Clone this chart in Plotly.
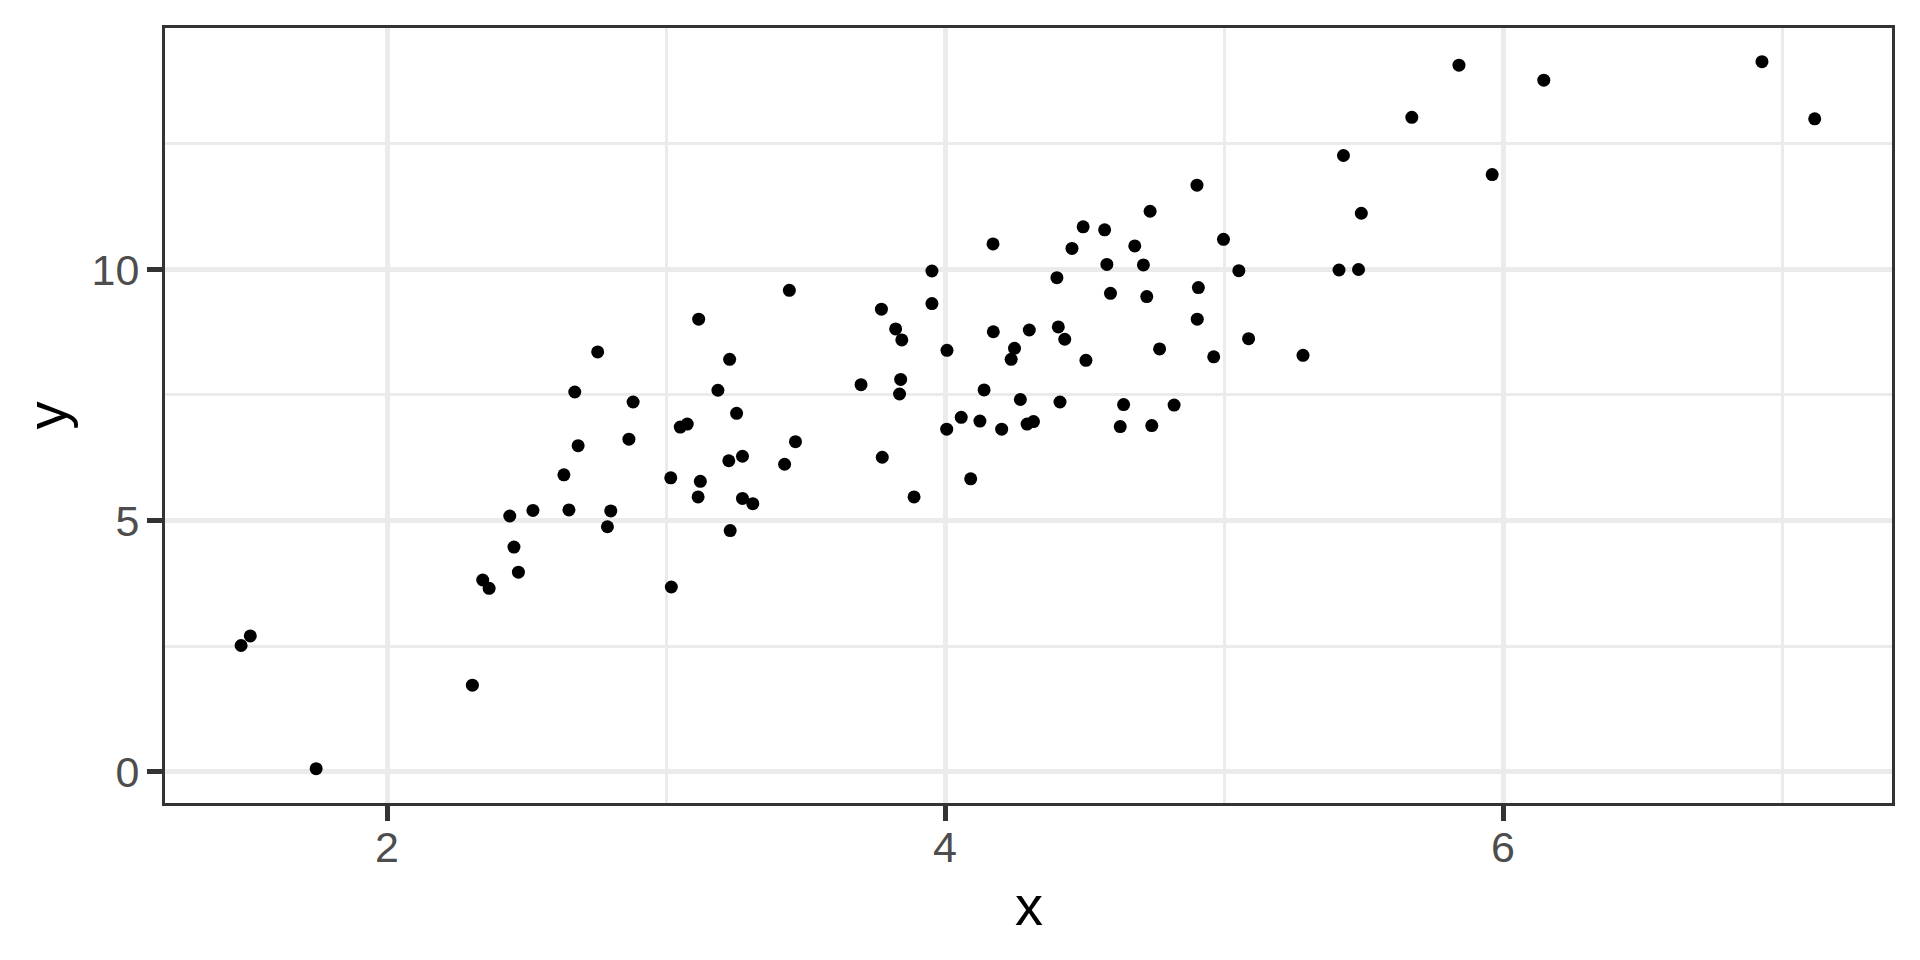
import plotly.graph_objects as go

x = [1.477, 1.510, 1.746, 2.306, 2.343, 2.366, 2.440, 2.455, 2.471, 2.523,
     2.634, 2.652, 2.673, 2.685, 2.755, 2.790, 2.802, 2.867, 2.882, 3.017,
     3.019, 3.051, 3.076, 3.115, 3.117, 3.123, 3.186, 3.225, 3.228, 3.230,
     3.253, 3.274, 3.274, 3.311, 3.425, 3.442, 3.464, 3.699, 3.772, 3.775,
     3.823, 3.837, 3.841, 3.845, 3.889, 3.953, 3.953, 4.006, 4.007, 4.058,
     4.092, 4.125, 4.140, 4.172, 4.173, 4.203, 4.237, 4.249, 4.270, 4.294,
     4.302, 4.317, 4.401, 4.406, 4.412, 4.429, 4.455, 4.495, 4.505, 4.572,
     4.580, 4.593, 4.628, 4.640, 4.680, 4.711, 4.723, 4.735, 4.741, 4.769,
     4.821, 4.903, 4.904, 4.908, 4.963, 4.998, 5.053, 5.088, 5.283, 5.412,
     5.428, 5.482, 5.492, 5.673, 5.842, 5.961, 6.146, 6.928, 7.117]
y = [2.51, 2.70, 0.056, 1.72, 3.815, 3.65, 5.09, 4.47, 3.97, 5.20,
     5.91, 5.21, 7.56, 6.49, 8.357, 4.876, 5.19, 6.62, 7.36, 5.85,
     3.675, 6.86, 6.92, 5.47, 9.01, 5.78, 7.594, 6.19, 8.21, 4.80,
     7.135, 6.28, 5.44, 5.335, 6.12, 9.585, 6.57, 7.705, 9.21, 6.26,
     8.815, 7.52, 7.81, 8.596, 5.47, 9.97, 9.32, 6.82, 8.39, 7.055,
     5.83, 6.98, 7.60, 10.51, 8.76, 6.82, 8.21, 8.43, 7.41, 6.92,
     8.795, 6.97, 9.837, 8.855, 7.36, 8.61, 10.42, 10.85, 8.19, 10.79,
     10.10, 9.526, 6.87, 7.31, 10.47, 10.09, 9.46, 11.16, 6.89, 8.417,
     7.30, 11.68, 9.01, 9.64, 8.26, 10.60, 9.976, 8.622, 8.29, 9.99,
     12.27, 10.00, 11.12, 13.03, 14.07, 11.89, 13.77, 14.14, 13.00]

x_ticks = [2, 4, 6]
y_ticks = [0, 5, 10]
x_title = "x"
y_title = "y"

FONT = "Liberation Sans, Arial, sans-serif"
TICK_FONT = dict(family=FONT, size=43, color="#4D4D4D")
TITLE_FONT = dict(family=FONT, size=56, color="#000000")

# page is offset by the default 8px body margin; panel target: x 165..1892, y 28..803
L, R, T, B = 157, 36, 20, 165
PW, PH = 1920 - L - R, 960 - T - B

fig = go.Figure(
    go.Scatter(x=x, y=y, mode="markers",
               marker=dict(size=13, color="#000000", line=dict(width=0)),
               hoverinfo="x+y")
)

axis_common = dict(
    showgrid=True, gridcolor="#EBEBEB", gridwidth=5,
    zeroline=False, automargin=False,
    showline=True, mirror=True, linecolor="#333333", linewidth=3,
    ticks="outside", ticklen=15, tickwidth=5, tickcolor="#333333",
    tickfont=TICK_FONT,
)

fig.update_xaxes(
    range=[1.2043, 7.394], tickvals=x_ticks, ticktext=[str(v) for v in x_ticks],
    minor=dict(showgrid=True, gridcolor="#EBEBEB", gridwidth=2.7, dtick=1, tick0=0, ticks=""),
    ticklabelstandoff=-11,
    **axis_common,
)
fig.update_yaxes(
    range=[-0.627, 14.81], tickvals=y_ticks, ticktext=[str(v) for v in y_ticks],
    minor=dict(showgrid=True, gridcolor="#EBEBEB", gridwidth=2.7, dtick=2.5, tick0=0, ticks=""),
    ticklabelstandoff=-1,
    **axis_common,
)

fig.update_layout(
    width=1920, height=960,
    margin=dict(l=L, r=R, t=T, b=B),
    paper_bgcolor="white", plot_bgcolor="white",
    showlegend=False,
    annotations=[
        dict(text=x_title, xref="paper", yref="paper", x=0.5,
             y=(803 - 906) / PH, xanchor="center", yanchor="middle",
             showarrow=False, font=TITLE_FONT),
        dict(text=y_title, xref="paper", yref="paper",
             x=(46 - 165) / PW, y=0.5, xanchor="center", yanchor="middle",
             textangle=-90, showarrow=False, font=TITLE_FONT),
    ],
)

fig.write_html("out.html")
